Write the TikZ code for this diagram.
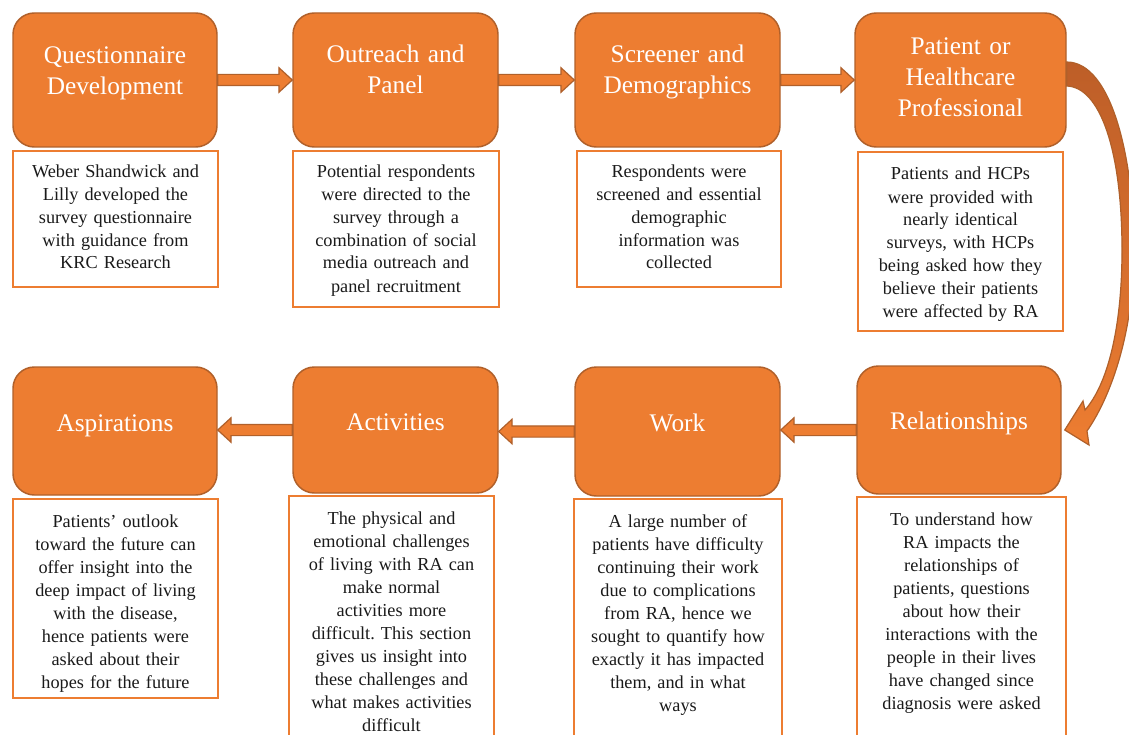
\documentclass[tikz,border=0pt]{standalone}
\usepackage{fontspec}
\setmainfont{Liberation Serif}
\usetikzlibrary{calc}
\frenchspacing
\definecolor{orng}{HTML}{ED7D31}
\definecolor{orngdk}{HTML}{B0602A}
\definecolor{curvdk}{HTML}{BD5E28}
\definecolor{txt}{HTML}{1A1A1A}
\tikzset{
 obox/.style={rectangle, rounded corners=16pt, fill=orng, draw=orngdk, line width=1.1pt, inner sep=0pt},
 wbox/.style={rectangle, fill=white, draw=orng, line width=1.5pt, inner sep=0pt},
 ttl/.style={anchor=base, align=center, text width=160pt, inner sep=0pt, text=white, font=\fontsize{19pt}{23.25pt}\selectfont},
 dsc/.style={anchor=base, align=center, text width=160pt, inner sep=0pt, text=txt, font=\fontsize{13.7pt}{17.25pt}\selectfont},
 barrow/.style={fill=orng, draw=orngdk, line width=0.9pt, line join=miter},
 carrow/.style={draw=orngdk, line width=0.9pt, top color=curvdk, bottom color=orng, line join=miter},
}
\newcommand{\harrow}[3]{%
 \path[barrow] let \p1=(#1), \p2=(#2) in
 (\x1,{\y1+4.2pt}) -- ({\x2-(#3)*10pt},{\y1+4.2pt}) -- ({\x2-(#3)*10pt},{\y1+9.2pt})
 -- (\x2,\y1) -- ({\x2-(#3)*10pt},{\y1-9.2pt}) -- ({\x2-(#3)*10pt},{\y1-4.2pt})
 -- (\x1,{\y1-4.2pt}) -- cycle;}
\begin{document}
\begin{tikzpicture}[x=0.75pt,y=-0.75pt]
\clip (0,0) rectangle (1129,735);
\fill[white] (0,0) rectangle (1129,735);
% orange boxes, row 1
\node[obox, minimum width=153pt, minimum height=100.5pt] (q) at (115,80) {};
\node[obox, minimum width=153.75pt, minimum height=100.5pt] (o) at (395.5,80) {};
\node[obox, minimum width=153.75pt, minimum height=100.5pt] (s) at (677.5,80) {};
\node[obox, minimum width=158.25pt, minimum height=100.5pt] (p) at (960.5,80) {};
% orange boxes, row 2
\node[obox, minimum width=153pt, minimum height=96pt] (asp) at (115,431) {};
\node[obox, minimum width=153.75pt, minimum height=94.5pt] (act) at (395.5,430) {};
\node[obox, minimum width=153.75pt, minimum height=96.75pt] (work) at (677.5,431.5) {};
\node[obox, minimum width=153pt, minimum height=96pt] (rel) at (959,430) {};
% titles
\node[ttl] (tq) at (115,64) {Questionnaire\\Development};
\node[ttl] (to) at (395.5,63) {Outreach and\\Panel};
\node[ttl] (ts) at (677.5,63) {Screener and\\Demographics};
\node[ttl] (tp) at (960.5,55) {Patient or\\Healthcare\\Professional};
\node[ttl] (tasp) at (115,431) {Aspirations};
\node[ttl] (tact) at (395.5,430) {Activities};
\node[ttl] (twork) at (677.5,431) {Work};
\node[ttl] (trel) at (959,429) {Relationships};
% description boxes
\node[wbox, minimum width=153.75pt, minimum height=102pt] (d1) at (115.5,219) {};
\node[wbox, minimum width=154.5pt, minimum height=117pt] (d2) at (396,229) {};
\node[wbox, minimum width=153pt, minimum height=102pt] (d3) at (679,219) {};
\node[wbox, minimum width=153.75pt, minimum height=134.25pt] (d4) at (960.5,241.5) {};
\node[wbox, minimum width=153.75pt, minimum height=149.25pt] (d5) at (115.5,598.5) {};
\node[wbox, minimum width=153.75pt, minimum height=183pt] (d6) at (391.5,618) {};
\node[wbox, minimum width=156pt, minimum height=180.75pt] (d7) at (678,619.5) {};
\node[wbox, minimum width=156.75pt, minimum height=182.25pt] (d8) at (961.5,618.5) {};
% description texts
\node[dsc] (e1) at (115.5,177) {Weber Shandwick and\\Lilly developed the\\survey questionnaire\\with guidance from\\KRC Research};
\node[dsc] (e2) at (396,177) {Potential respondents\\were directed to the\\survey through a\\combination of social\\media outreach and\\panel recruitment};
\node[dsc] (e3) at (679,177) {Respondents were\\screened and essential\\demographic\\information was\\collected};
\node[dsc] (e4) at (960.5,180) {Patients and HCPs\\were provided with\\nearly identical\\surveys, with HCPs\\being asked how they\\believe their patients\\were affected by RA};
\node[dsc] (e5) at (115.5,527) {Patients’ outlook\\toward the future can\\offer insight into the\\deep impact of living\\with the disease,\\hence patients were\\asked about their\\hopes for the future};
\node[dsc] (e6) at (391.5,524) {The physical and\\emotional challenges\\of living with RA can\\make normal\\activities more\\difficult. This section\\gives us insight into\\these challenges and\\what makes activities\\difficult};
\node[dsc] (e7) at (678,527) {A large number of\\patients have difficulty\\continuing their work\\due to complications\\from RA, hence we\\sought to quantify how\\exactly it has impacted\\them, and in what\\ways};
\node[dsc] (e8) at (961.5,525) {To understand how\\RA impacts the\\relationships of\\patients, questions\\about how their\\interactions with the\\people in their lives\\have changed since\\diagnosis were asked};
% block arrows
\harrow{q.east}{o.west}{1}
\harrow{o.east}{s.west}{1}
\harrow{s.east}{p.west}{1}
\harrow{rel.west}{work.east}{-1}
\harrow{work.west}{act.east}{-1}
\harrow{act.west}{asp.east}{-1}
% curved arrow
\path[carrow] ($(p.east)+(0,-18)$) .. controls (1112,62) and (1134,160) .. (1134,250)
 .. controls (1134,330) and (1112,395) .. (1087,431)
 -- (1089,445) -- ($(rel.east)+(3,0)$) -- (1083,401) -- (1085,410)
 .. controls (1107,385) and (1122,330) .. (1122,250)
 .. controls (1122,150) and (1100,87) .. ($(p.east)+(0,6)$) -- cycle;
\end{tikzpicture}
\end{document}
